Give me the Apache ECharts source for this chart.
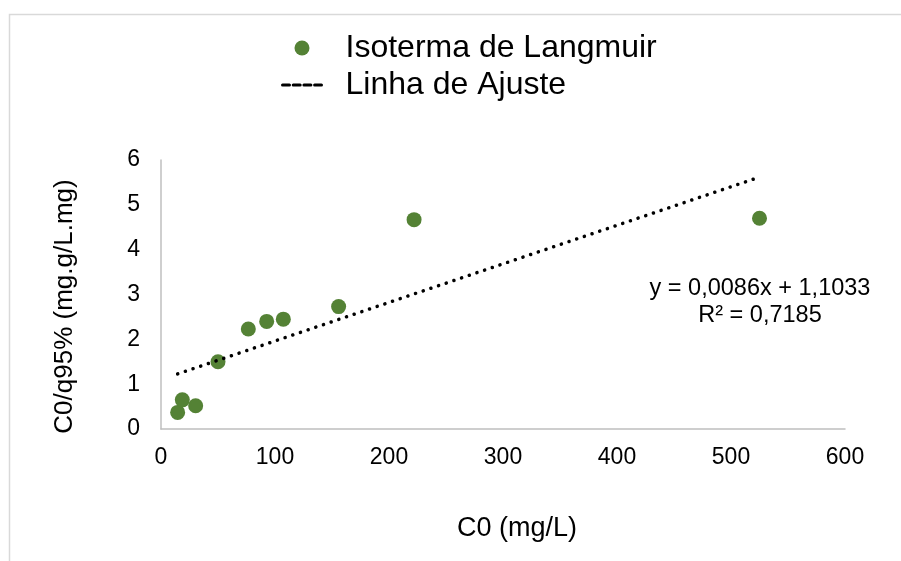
<!DOCTYPE html>
<html>
<head>
<meta charset="utf-8">
<script src="https://cdn.jsdelivr.net/npm/echarts@6/dist/echarts.min.js"></script>
<style>
  html, body { margin: 0; padding: 0; background: #fff; }
  #chart { width: 901px; height: 561px; }
</style>
</head>
<body>
<div id="chart"></div>
<script>
// dados
var c0 = [14.6, 18.7, 30.4, 50, 76.6, 92.7, 107.3, 155.8, 222, 525]
var q95 = [0.37, 0.65, 0.52, 1.5, 2.23, 2.40, 2.45, 2.73, 4.67, 4.70]
var slope = 0.0086
var intercept = 1.1033
var equationText = ['y = 0,0086x + 1,1033', 'R² = 0,7185']
var xTicks = [0, 100, 200, 300, 400, 500, 600]
var yTicks = [0, 1, 2, 3, 4, 5, 6]

var font = 'Liberation Sans, Arial, sans-serif'
var green = '#548235'

var points = c0.map(function (x, i) { return [x, q95[i]] })
var xMin = Math.min.apply(null, c0)
var xMax = Math.max.apply(null, c0)
var fitLine = [[xMin, slope * xMin + intercept], [xMax, slope * xMax + intercept]]

var chart = echarts.init(document.getElementById('chart'))
var option = {
  backgroundColor: '#fff',
  animation: false,
  textStyle: { fontFamily: font },
  grid: { left: 161, right: 56, top: 160, bottom: 132 },
  legend: {
    orient: 'vertical',
    left: 276,
    top: 27,
    itemWidth: 39,
    itemHeight: 15,
    itemGap: 5,
    textStyle: { fontSize: 32, color: '#000', fontFamily: font, padding: [0, 0, 0, 19] },
    data: [
      { name: 'Isoterma de Langmuir', icon: 'circle', itemStyle: { color: green } },
      { name: 'Linha de Ajuste', itemStyle: { opacity: 0 }, lineStyle: { type: [7, 3.7], width: 3, color: '#000' } }
    ]
  },
  xAxis: {
    type: 'value',
    min: xTicks[0],
    max: xTicks[xTicks.length - 1],
    interval: 100,
    name: 'C0 (mg/L)',
    nameLocation: 'middle',
    nameGap: 86,
    nameTextStyle: { fontSize: 27, color: '#000', fontFamily: font, padding: [0, 0, 0, 28] },
    axisLine: { lineStyle: { color: '#bfbfbf', width: 1.5 } },
    axisTick: { show: false },
    splitLine: { show: false },
    axisLabel: { fontSize: 23, color: '#000', margin: 17, fontFamily: font }
  },
  yAxis: {
    type: 'value',
    min: yTicks[0],
    max: yTicks[yTicks.length - 1],
    interval: 1,
    name: 'C0/q95% (mg.g/L.mg)',
    nameLocation: 'middle',
    nameGap: 83,
    nameTextStyle: { fontSize: 26, color: '#000', fontFamily: font, padding: [0, 24, 0, 0] },
    axisLine: { show: true, lineStyle: { color: '#bfbfbf', width: 1.5 } },
    axisTick: { show: false },
    splitLine: { show: false },
    axisLabel: { fontSize: 23, color: '#000', margin: 21, fontFamily: font }
  },
  graphic: [
    {
      type: 'rect',
      shape: { x: 9.5, y: 14.5, width: 1200, height: 1200 },
      style: { fill: 'none', stroke: '#d9d9d9', lineWidth: 1.5 },
      silent: true
    },
    {
      type: 'text',
      x: 760,
      y: 275,
      style: {
        text: equationText.join('\n'),
        fontSize: 23.5,
        fontFamily: font,
        fill: '#000',
        align: 'center',
        lineHeight: 27
      }
    }
  ],
  series: [
    {
      name: 'Isoterma de Langmuir',
      type: 'scatter',
      symbol: 'circle',
      symbolSize: 15,
      itemStyle: { color: green, opacity: 1 },
      data: points,
      z: 3
    },
    {
      name: 'Linha de Ajuste',
      type: 'line',
      symbol: 'none',
      itemStyle: { color: '#000' },
      lineStyle: { color: '#000', width: 3.5, type: [0.1, 8], cap: 'round' },
      data: fitLine,
      z: 4
    }
  ]
}
chart.setOption(option)
</script>
</body>
</html>
